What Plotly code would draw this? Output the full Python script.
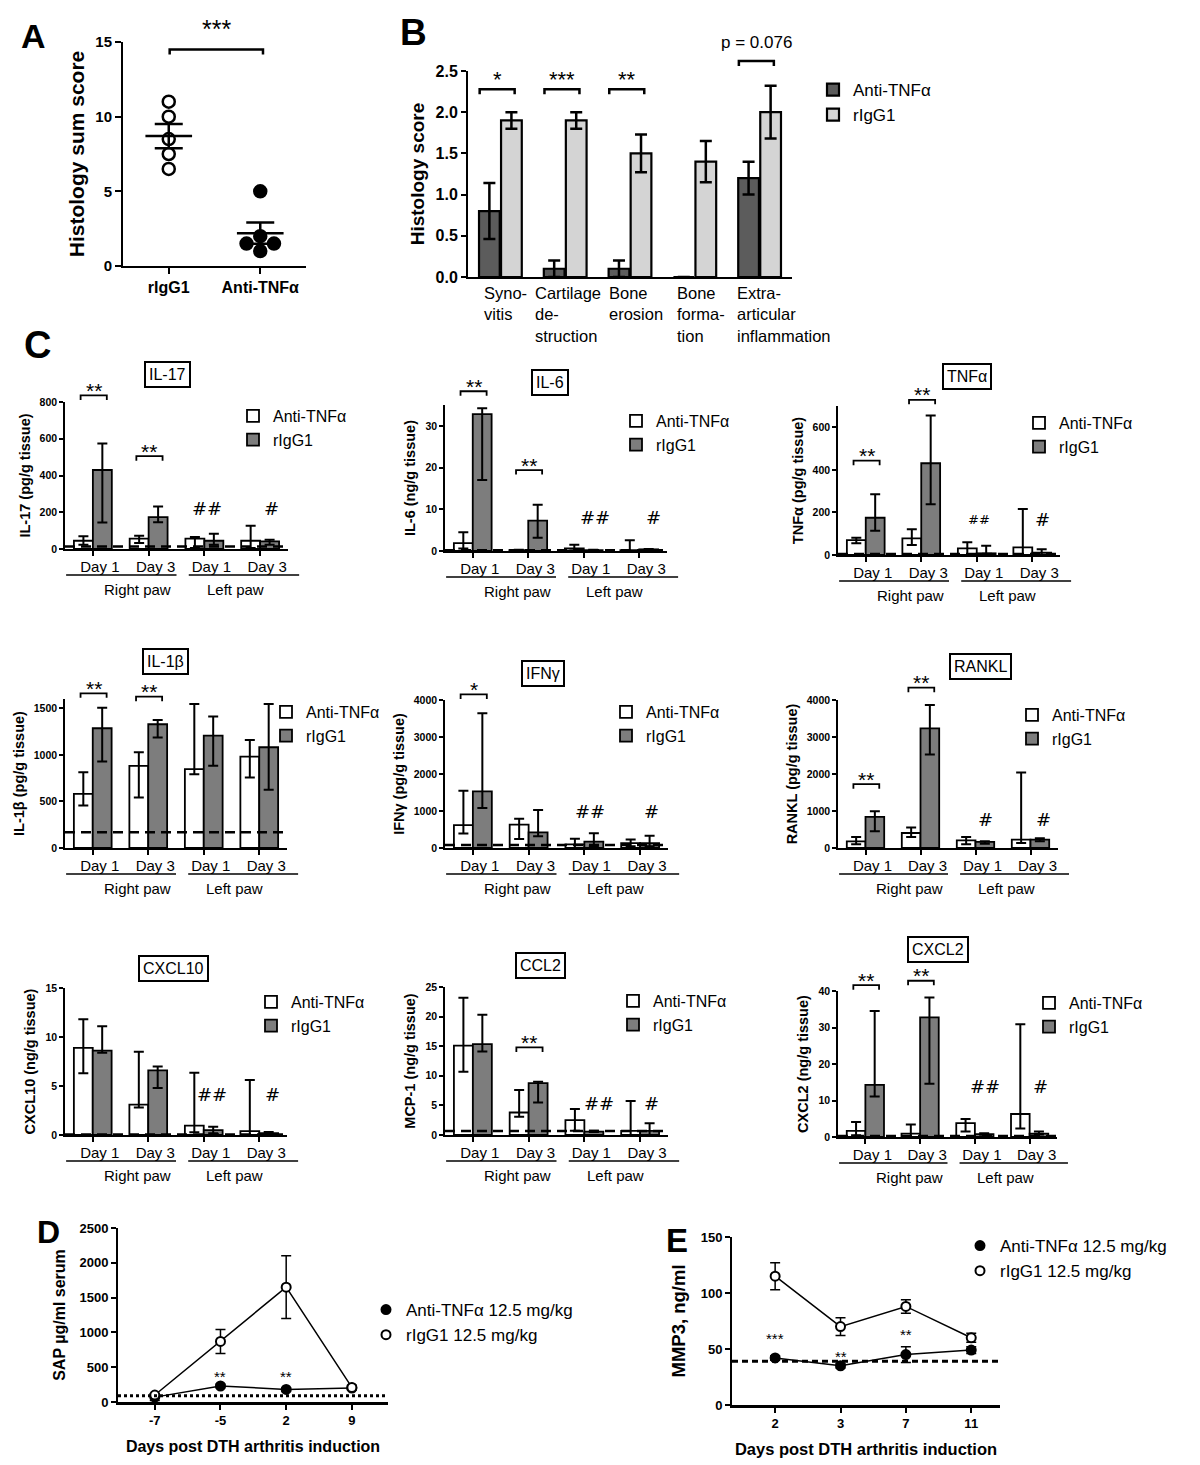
import numpy as np
import plotly.graph_objects as go

W, H = 1200, 1465
FONT = "Liberation Sans, Arial, sans-serif"
HASHFONT = "DejaVu Sans, sans-serif"

# ---------------- A: histology sum score per mouse
A_GROUPS = ["rIgG1", "Anti-TNFα"]
A_RIGG1 = [11, 10, 8.5, 7.5, 6.5]
A_ANTI = [5, 2, 1.5, 1.5, 1]
A_SPREAD = [[0, 0, 0, 0, 0], [0, 0, -0.15, 0.15, 0]]  # side by side for tied scores

# ---------------- B: histology score, mean +/- SEM
B_CATS = ["Syno-<br>vitis", "Cartilage<br>de-<br>struction", "Bone<br>erosion",
          "Bone<br>forma-<br>tion", "Extra-<br>articular<br>inflammation"]
B_ANTI = [0.8, 0.1, 0.1, 0.0, 1.2]
B_ANTI_SEM = [0.34, 0.1, 0.1, 0.0, 0.2]
B_RIGG1 = [1.9, 1.9, 1.5, 1.4, 2.0]
B_RIGG1_SEM = [0.1, 0.1, 0.23, 0.25, 0.32]
B_SIG = ["*", "***", "**", "", "p = 0.076"]
B_SIG_Y = [2.28, 2.28, 2.28, None, 2.62]

# ---------------- C: cytokines, median and range bars
C_DAYS = ["Day 1", "Day 3", "Day 1", "Day 3"]
C_PAWS = ["Right paw", "Left paw"]

IL17_ANTI = [45, 56, 56, 45]
IL17_ANTI_LO = [23, 32, 5, 5]
IL17_ANTI_HI = [69, 72, 65, 126]
IL17_IGG = [430, 173, 45, 41]
IL17_IGG_LO = [144, 146, 23, 23]
IL17_IGG_HI = [574, 231, 83, 50]

IL6_ANTI = [1.9, 0.2, 0.6, 0.2]
IL6_ANTI_LO = [0.6, 0.1, 0.1, 0.0]
IL6_ANTI_HI = [4.5, 0.3, 1.5, 2.6]
IL6_IGG = [32.8, 7.3, 0.2, 0.4]
IL6_IGG_LO = [17.0, 3.2, 0.1, 0.2]
IL6_IGG_HI = [34.2, 11.1, 0.3, 0.5]

TNF_ANTI = [70, 78, 31, 36]
TNF_ANTI_LO = [55, 47, 0, 0]
TNF_ANTI_HI = [81, 121, 60, 216]
TNF_IGG = [175, 431, 8, 11]
TNF_IGG_LO = [114, 238, 0, 0]
TNF_IGG_HI = [285, 655, 44, 27]

IL1B_ANTI = [582, 882, 846, 982]
IL1B_ANTI_LO = [457, 543, 793, 757]
IL1B_ANTI_HI = [814, 1029, 1546, 1161]
IL1B_IGG = [1286, 1329, 1207, 1082]
IL1B_IGG_LO = [929, 1186, 882, 625]
IL1B_IGG_HI = [1507, 1375, 1411, 1546]

IFNG_ANTI = [620, 630, 100, 130]
IFNG_ANTI_LO = [390, 240, 0, 50]
IFNG_ANTI_HI = [1550, 790, 250, 230]
IFNG_IGG = [1530, 420, 170, 130]
IFNG_IGG_LO = [1080, 315, 50, 50]
IFNG_IGG_HI = [3640, 1030, 400, 330]

RANKL_ANTI = [180, 406, 208, 226]
RANKL_ANTI_LO = [100, 298, 100, 135]
RANKL_ANTI_HI = [300, 551, 298, 2040]
RANKL_IGG = [840, 3232, 163, 226]
RANKL_IGG_LO = [450, 2528, 117, 180]
RANKL_IGG_HI = [993, 3865, 180, 262]

CXCL10_ANTI = [8.9, 3.1, 0.95, 0.4]
CXCL10_ANTI_LO = [6.3, 2.8, 0.27, 0.0]
CXCL10_ANTI_HI = [11.8, 8.5, 6.35, 5.6]
CXCL10_IGG = [8.6, 6.6, 0.5, 0.2]
CXCL10_IGG_LO = [8.4, 4.8, 0.17, 0.1]
CXCL10_IGG_HI = [11.1, 7.0, 0.85, 0.3]

CCL2_ANTI = [15.1, 3.8, 2.5, 0.7]
CCL2_ANTI_LO = [10.7, 3.1, 0.7, 0.0]
CCL2_ANTI_HI = [23.2, 7.6, 4.4, 5.75]
CCL2_IGG = [15.35, 8.75, 0.56, 0.7]
CCL2_IGG_LO = [14.1, 5.5, 0.5, 0.0]
CCL2_IGG_HI = [20.3, 9.0, 0.7, 2.0]

CXCL2_ANTI = [1.7, 0.9, 3.8, 6.3]
CXCL2_ANTI_LO = [0.5, 0.0, 1.5, 2.3]
CXCL2_ANTI_HI = [4.1, 3.4, 4.9, 30.9]
CXCL2_IGG = [14.3, 32.8, 0.8, 0.9]
CXCL2_IGG_LO = [11.1, 14.6, 0.6, 0.7]
CXCL2_IGG_HI = [34.5, 38.2, 1.0, 1.5]

C_PANELS = [
    ("IL-17", "IL-17 (pg/g tissue)", IL17_ANTI, IL17_ANTI_LO, IL17_ANTI_HI, IL17_IGG, IL17_IGG_LO, IL17_IGG_HI),
    ("IL-6", "IL-6 (ng/g tissue)", IL6_ANTI, IL6_ANTI_LO, IL6_ANTI_HI, IL6_IGG, IL6_IGG_LO, IL6_IGG_HI),
    ("TNFα", "TNFα (pg/g tissue)", TNF_ANTI, TNF_ANTI_LO, TNF_ANTI_HI, TNF_IGG, TNF_IGG_LO, TNF_IGG_HI),
    ("IL-1β", "IL-1β (pg/g tissue)", IL1B_ANTI, IL1B_ANTI_LO, IL1B_ANTI_HI, IL1B_IGG, IL1B_IGG_LO, IL1B_IGG_HI),
    ("IFNγ", "IFNγ (pg/g tissue)", IFNG_ANTI, IFNG_ANTI_LO, IFNG_ANTI_HI, IFNG_IGG, IFNG_IGG_LO, IFNG_IGG_HI),
    ("RANKL", "RANKL (pg/g tissue)", RANKL_ANTI, RANKL_ANTI_LO, RANKL_ANTI_HI, RANKL_IGG, RANKL_IGG_LO, RANKL_IGG_HI),
    ("CXCL10", "CXCL10 (ng/g tissue)", CXCL10_ANTI, CXCL10_ANTI_LO, CXCL10_ANTI_HI, CXCL10_IGG, CXCL10_IGG_LO, CXCL10_IGG_HI),
    ("CCL2", "MCP-1 (ng/g tissue)", CCL2_ANTI, CCL2_ANTI_LO, CCL2_ANTI_HI, CCL2_IGG, CCL2_IGG_LO, CCL2_IGG_HI),
    ("CXCL2", "CXCL2 (ng/g tissue)", CXCL2_ANTI, CXCL2_ANTI_LO, CXCL2_ANTI_HI, CXCL2_IGG, CXCL2_IGG_LO, CXCL2_IGG_HI),
]
C_LOD = [14, 0.15, 5, 168, 80, None, 0.05, 0.68, 0.3]          # detection limit (dashed)
C_BRACKETS = [[(0, 836, "**"), (1, 505, "**")],
              [(0, 38.3, "**"), (1, 19.4, "**")],
              [(0, 443, "**"), (1, 729, "**")],
              [(0, 1661, "**"), (1, 1625, "**")],
              [(0, 4150, "*")],
              [(0, 1725, "**"), (1, 4334, "**")],
              [],
              [(1, 14.8, "**")],
              [(0, 41.6, "**"), (1, 42.8, "**")]]
C_HASH = [[(2.05, 222, "##"), (3.2, 222, "#")],
          [(2.2, 8.1, "##"), (3.25, 8.1, "#")],
          [(2.04, 169, "##"), (3.19, 169, "#")],
          [],
          [(2.1, 1000, "##"), (3.2, 1000, "#")],
          [(2.18, 776, "#"), (3.23, 776, "#")],
          [(2.15, 4.1, "##"), (3.23, 4.1, "#")],
          [(2.27, 5.4, "##"), (3.2, 5.4, "#")],
          [(2.18, 13.8, "##"), (3.2, 13.8, "#")]]

# ---------------- D: serum SAP, mean +/- SEM
D_DAYS = ["-7", "-5", "2", "9"]
D_ANTI = [70, 230, 180, 200]
D_ANTI_SEM = [50, 25, 20, 25]
D_RIGG1 = [100, 870, 1650, 210]
D_RIGG1_SEM = [20, 172, 450, 30]
D_SIG = ["", "**", "**", ""]
D_SIG_Y = [None, 416, 416, None]
D_LOD = 90

# ---------------- E: serum MMP3, mean +/- SEM
E_DAYS = ["2", "3", "7", "11"]
E_ANTI = [42, 35, 45, 49]
E_ANTI_SEM = [2, 2, 7, 3]
E_RIGG1 = [115, 70, 88, 60]
E_RIGG1_SEM = [12, 8, 6, 4]
E_SIG = ["***", "**", "**", ""]
E_SIG_Y = [62.5, 46.4, 66, None]
E_LOD = 39

# ---------------- geometry (pixels in the 1200 x 1465 page)
BOXES = {1: (123, 306, 42, 266), 2: (468, 792, 71, 277),
         3: (65, 288, 402, 549), 4: (445, 667, 405, 551), 5: (838, 1060, 406, 555),
         6: (65, 287, 699, 848), 7: (445, 668, 700, 848), 8: (838, 1058, 700, 848),
         9: (65, 287, 988, 1135), 10: (445, 668, 987, 1135), 11: (838, 1057, 991, 1137),
         12: (118, 388, 1228, 1402), 13: (732, 1000, 1237, 1405)}
XRANGES = {1: (-0.5, 1.5), 2: (-0.5, 4.5), 12: (-0.56, 3.55), 13: (-0.66, 3.44)}
YRANGES = {1: (0, 15), 2: (0, 2.5), 12: (0, 2500), 13: (0, 150)}
B_LABEL_SHIFT = [5, 3, 6, 6, 24]
C_YMAX = [(800, 200), (35, 10), (700, 200), (1600, 500), (4000, 1000), (4000, 1000), (15, 5), (25, 5), (40, 10)]
C_TITLE_XY = [(167, 374), (550, 382), (967, 377), (165, 661), (543, 673), (980, 666), (173, 968), (540, 965), (938, 949)]
C_LEGEND_XY = [(247, 408), (630, 413), (1033, 415), (280, 704), (620, 704), (1026, 707), (265, 994), (627, 993), (1043, 995)]
for k, (ymax, _) in enumerate(C_YMAX):
    XRANGES[k + 3] = (-0.5, 3.5)
    YRANGES[k + 3] = (0, ymax)


def ids(n):
    return ("x", "y") if n == 1 else (f"x{n}", f"y{n}")


def to_px(n, x, y):
    L, R, T, B = BOXES[n]
    x0, x1 = XRANGES[n]
    y0, y1 = YRANGES[n]
    return L + (x - x0) / (x1 - x0) * (R - L), B - (y - y0) / (y1 - y0) * (B - T)


def pp(px, py):
    return px / W, 1 - py / H


shapes, annotations = [], []


def line_px(x0, y0, x1, y1, width=1.5):
    a, b = pp(x0, y0)
    c, d = pp(x1, y1)
    shapes.append(dict(type="line", xref="paper", yref="paper", x0=a, y0=b, x1=c, y1=d,
                       line=dict(color="black", width=width)))


def bracket(n, xa, xb, y, drop=4.5, width=2):
    ax, ay = to_px(n, xa, y)
    bx, _ = to_px(n, xb, y)
    p = [pp(ax, ay + drop), pp(ax, ay), pp(bx, ay), pp(bx, ay + drop)]
    path = "M" + " L".join(f"{u:.5f},{v:.5f}" for u, v in p)
    shapes.append(dict(type="path", path=path, xref="paper", yref="paper",
                       line=dict(color="black", width=width)))
    return (ax + bx) / 2, ay


def text_px(px, py, text, size, bold=False, family=FONT, yshift=0, **kw):
    u, v = pp(px, py)
    annotations.append(dict(x=u, y=v, xref="paper", yref="paper", text=text, showarrow=False,
                            font=dict(family=family, size=size, color="black",
                                      weight="bold" if bold else "normal"),
                            xanchor=kw.pop("xanchor", "center"), yanchor=kw.pop("yanchor", "middle"),
                            yshift=yshift, **kw))


def axis(n, **kw):
    L, R, T, B = BOXES[n]
    xid, yid = ids(n)
    d = dict(showgrid=False, zeroline=False, showline=True, linecolor="black", linewidth=2,
             ticks="outside", tickcolor="black", tickwidth=2, ticklen=5, automargin=False)
    xa = dict(d, domain=[L / W, R / W], range=list(XRANGES[n]), anchor=yid)
    ya = dict(d, domain=[1 - B / H, 1 - T / H], range=list(YRANGES[n]), anchor=xid)
    xa.update(kw.get("x", {}))
    ya.update(kw.get("y", {}))
    return xa, ya


def legend_at(x_sym, y_row1, size):
    # plotly puts the legend symbol ~20px and the text 40px right of the legend's left edge
    return dict(x=(x_sym - 20) / W, y=1 - (y_row1 - 16) / H, xanchor="left", yanchor="top",
                font=dict(size=size), bgcolor="rgba(0,0,0,0)", tracegroupgap=0)


fig = go.Figure()
layout = dict(width=W, height=H, margin=dict(l=0, r=0, t=0, b=0, autoexpand=False),
              plot_bgcolor="white", paper_bgcolor="white",
              font=dict(family=FONT, color="black"), barmode="overlay")

# ================= A
xa, ya = axis(1,
              x=dict(tickvals=[0, 1], ticktext=A_GROUPS, ticklen=6,
                     tickfont=dict(size=16, weight="bold")),
              y=dict(tickvals=[0, 5, 10, 15], ticklen=6, tickfont=dict(size=15, weight="bold"),
                     title=dict(text="Histology sum score", font=dict(size=21, weight="bold"), standoff=5)))
layout["xaxis"], layout["yaxis"] = xa, ya
for g, (vals, filled) in enumerate([(A_RIGG1, False), (A_ANTI, True)]):
    fig.add_trace(go.Scatter(x=[g + s for s in A_SPREAD[g]], y=vals, mode="markers",
                             marker=dict(size=12, color="black" if filled else "white",
                                         line=dict(color="black", width=2.5)),
                             showlegend=False, cliponaxis=False, xaxis="x", yaxis="y"))
a_mean = [np.mean(v) for v in (A_RIGG1, A_ANTI)]
a_sem = [np.std(v, ddof=1) / np.sqrt(len(v)) for v in (A_RIGG1, A_ANTI)]
fig.add_trace(go.Scatter(x=[0, 1], y=a_mean, mode="markers", marker=dict(size=1, color="rgba(0,0,0,0)"),
                         error_x=dict(type="constant", value=0.255, width=0, thickness=2.5, color="black"),
                         error_y=dict(type="data", array=a_sem, width=14, thickness=2.5, color="black"),
                         showlegend=False, xaxis="x", yaxis="y"))
cx, cy = bracket(1, 0.01, 1.03, 14.5, drop=5, width=2.5)
text_px(cx, cy, "***", 25, yshift=20)

# ================= B
xa, ya = axis(2, x=dict(tickvals=list(range(5)), showticklabels=False, ticks=""),
              y=dict(tickvals=[0, 0.5, 1, 1.5, 2, 2.5], tickformat=".1f",
                     tickfont=dict(size=16, weight="bold"),
                     title=dict(text="Histology score", font=dict(size=19, weight="bold"), standoff=6)))
layout["xaxis2"], layout["yaxis2"] = xa, ya
for vals, sem, name, color, off in [(B_ANTI, B_ANTI_SEM, "Anti-TNFα", "#5c5c5c", -0.33),
                                    (B_RIGG1, B_RIGG1_SEM, "rIgG1", "#d4d4d4", 0.01)]:
    fig.add_trace(go.Bar(x=list(range(5)), y=vals, width=0.32, offset=off, name=name,
                         marker=dict(color=color, line=dict(color="black", width=2.2)),
                         error_y=dict(type="data", array=sem, color="black", thickness=2.5, width=6),
                         xaxis="x2", yaxis="y2", legend="legend"))
for i, lab in enumerate(B_CATS):
    px, _ = to_px(2, i, 0)
    text_px(px + B_LABEL_SHIFT[i], 282, lab, 16.5, xanchor="center", yanchor="top", align="left")
for i, (s, y) in enumerate(zip(B_SIG, B_SIG_Y)):
    if y is None:
        continue
    cx, cy = bracket(2, i - 0.32, i + 0.22, y, drop=5, width=2.5)
    if s.startswith("p"):
        text_px(cx, cy, s, 17, yshift=19)
    else:
        text_px(cx, cy, s, 22, yshift=10)
layout["legend"] = legend_at(833, 88, 17)

# ================= C
for k, (label, ytitle, anti, anti_lo, anti_hi, igg, igg_lo, igg_hi) in enumerate(C_PANELS):
    n = k + 3
    xid, yid = ids(n)
    ymax, dtick = C_YMAX[k]
    xa, ya = axis(n, x=dict(tickvals=[0, 1, 2, 3], ticktext=C_DAYS, ticklen=5, tickwidth=1.5,
                            linewidth=1.5, tickfont=dict(size=15), ticklabelshift=7,
                            ticklabelstandoff=-2),
                  y=dict(dtick=dtick, tick0=0, ticklen=4, tickwidth=1.5, linewidth=1.5,
                         tickfont=dict(size=10.5, weight="bold"),
                         title=dict(text=ytitle, font=dict(size=14.5, weight="bold"), standoff=6)))
    layout[f"xaxis{n}"], layout[f"yaxis{n}"] = xa, ya
    leg = f"legend{k + 2}"
    for vals, lo, hi, name, color, off in [(anti, anti_lo, anti_hi, "Anti-TNFα", "white", -0.34),
                                           (igg, igg_lo, igg_hi, "rIgG1", "#7d7d7d", 0.0)]:
        fig.add_trace(go.Bar(x=[0, 1, 2, 3], y=vals, width=0.34, offset=off, name=name,
                             marker=dict(color=color, line=dict(color="black", width=1.8)),
                             error_y=dict(type="data", symmetric=False,
                                          array=[h - v for h, v in zip(hi, vals)],
                                          arrayminus=[v - l for v, l in zip(vals, lo)],
                                          color="black", thickness=2, width=5),
                             xaxis=xid, yaxis=yid, legend=leg))
    if C_LOD[k] is not None:
        shapes.append(dict(type="line", xref=xid, yref=yid, x0=-0.5, x1=3.5, y0=C_LOD[k], y1=C_LOD[k],
                           line=dict(color="black", width=2.5, dash="10px,6px")))
    L, R, T, B = BOXES[n]
    for (xa0, xa1), (xl, paw) in zip([(-0.48, 1.5), (1.72, 3.7)], [(0.8, C_PAWS[0]), (2.56, C_PAWS[1])]):
        line_px(to_px(n, xa0, 0)[0], B + 26, to_px(n, xa1, 0)[0], B + 26, width=1.5)
        text_px(to_px(n, xl, 0)[0], B + 40, paw, 15)
    for g, y, s in C_BRACKETS[k]:
        cx, cy = bracket(n, g - 0.22, g + 0.25, y, drop=4.5, width=1.8)
        text_px(cx, cy, s, 21, yshift=5)
    for x, y, s in C_HASH[k]:
        px, py = to_px(n, x, y)
        text_px(px, py, s, 13 if (k == 2 and s == "##") else 18, family=HASHFONT)
    tx, ty = C_TITLE_XY[k]
    text_px(tx, ty, label, 16, bordercolor="black", borderwidth=2, borderpad=3)
    sx, sy = C_LEGEND_XY[k]
    layout[leg] = legend_at(sx + 6, sy + 7, 16)

# ================= D and E
for n, days, anti, anti_sem, igg, igg_sem, sig, sig_y, lod, ytitle, yticks, leg, legxy in [
        (12, D_DAYS, D_ANTI, D_ANTI_SEM, D_RIGG1, D_RIGG1_SEM, D_SIG, D_SIG_Y, D_LOD,
         "SAP µg/ml serum", [0, 500, 1000, 1500, 2000, 2500], "legend11", (386, 1308)),
        (13, E_DAYS, E_ANTI, E_ANTI_SEM, E_RIGG1, E_RIGG1_SEM, E_SIG, E_SIG_Y, E_LOD,
         "MMP3, ng/ml", [0, 50, 100, 150], "legend12", (980, 1244))]:
    xid, yid = ids(n)
    xa, ya = axis(n, x=dict(tickvals=[0, 1, 2, 3], ticktext=days, linewidth=2.5,
                            tickfont=dict(size=13, weight="bold"),
                            title=dict(text="Days post DTH arthritis induction",
                                       font=dict(size=16 if n == 12 else 16.5, weight="bold"),
                                       standoff=14)),
                  y=dict(tickvals=yticks, tickfont=dict(size=13, weight="bold"),
                         title=dict(text=ytitle, font=dict(size=16 if n == 12 else 18.5, weight="bold"),
                                    standoff=10)))
    layout[f"xaxis{n}"], layout[f"yaxis{n}"] = xa, ya
    x = [0, 1, 2, 3]
    for vals, sem, name, fill in [(anti, anti_sem, "Anti-TNFα 12.5 mg/kg", "black"),
                                  (igg, igg_sem, "rIgG1 12.5 mg/kg", "white")]:
        fig.add_trace(go.Scatter(x=x, y=vals, mode="lines", line=dict(color="black", width=1.5),
                                 showlegend=False, xaxis=xid, yaxis=yid, hoverinfo="skip"))
        fig.add_trace(go.Scatter(x=x, y=vals, mode="markers", name=name, cliponaxis=False,
                                 marker=dict(size=9, color=fill, line=dict(color="black", width=2)),
                                 error_y=dict(type="data", array=sem, color="black", thickness=1.5, width=5),
                                 xaxis=xid, yaxis=yid, legend=leg))
    shapes.append(dict(type="line", xref=xid, yref=yid, x0=XRANGES[n][0], x1=XRANGES[n][1], y0=lod, y1=lod,
                       line=dict(color="black", width=3, dash="dot" if n == 12 else "6px,4px")))
    for i, (s, y) in enumerate(zip(sig, sig_y)):
        if y is None:
            continue
        px, py = to_px(n, i, y)
        text_px(px, py, s, 15, yshift=-3)
    layout[leg] = legend_at(legxy[0], legxy[1], 17)

# panel letters
for letter, (lx, ly), size in [("A", (33, 36), 34), ("B", (413, 33), 37), ("C", (37, 345), 38),
                               ("D", (48, 1232), 32), ("E", (677, 1240), 33)]:
    text_px(lx, ly, letter, size, bold=True)

layout["shapes"] = shapes
layout["annotations"] = annotations
fig.update_layout(**layout)
fig.write_html("out.html", config={"displayModeBar": False},
               post_script="document.body.style.margin = '0px';")
